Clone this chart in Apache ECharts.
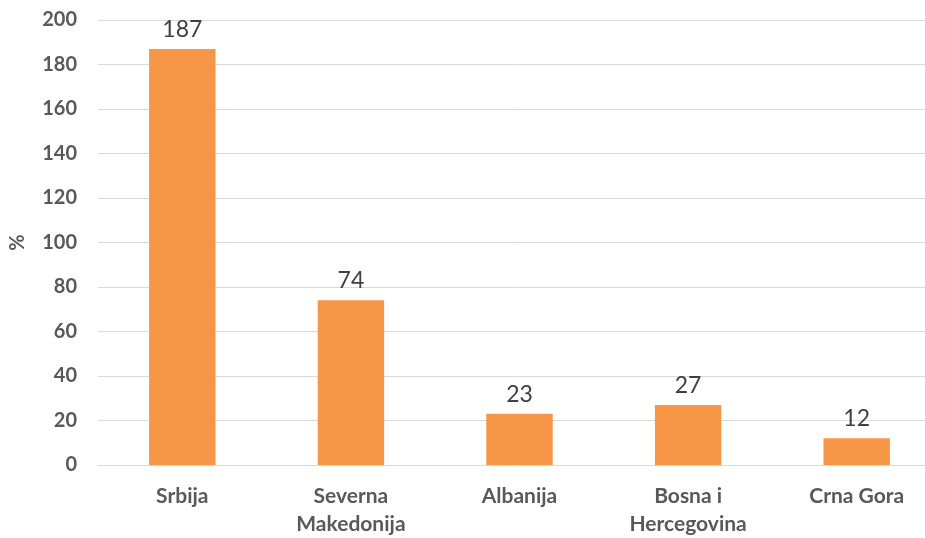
<!DOCTYPE html>
<html>
<head>
<meta charset="utf-8">
<title>Chart</title>
<script src="https://cdn.jsdelivr.net/npm/echarts@6/dist/echarts.min.js"></script>
<style>
  html, body { margin: 0; padding: 0; background: #ffffff; overflow: hidden; }
  /* the plot runs slightly past the right edge, so the canvas is clipped */
  #chart { width: 925px; height: 538px; overflow: hidden; position: relative; }
</style>
</head>
<body>
<div id="chart"></div>
<script>
// Countries on the x axis and their values (%)
const categories = ['Srbija', 'Severna\nMakedonija', 'Albanija', 'Bosna i\nHercegovina', 'Crna Gora'];
const values = [187, 74, 23, 27, 12];
const yTicks = { min: 0, max: 200, interval: 20 };
const yAxisName = '%';

const chart = echarts.init(document.getElementById('chart'), null, { renderer: 'canvas', width: 941, height: 538 });

chart.setOption({
  animation: false,
  backgroundColor: '#ffffff',
  grid: { left: 96, right: 0, top: 20, height: 450, containLabel: false },
  xAxis: {
    type: 'category',
    data: categories,
    axisLine: { show: true, lineStyle: { color: '#d9d9d9', width: 1 } },
    axisTick: { show: false },
    axisLabel: {
      color: '#595959',
      fontFamily: 'Lato',
      fontWeight: 'bold',
      fontSize: 21,
      lineHeight: 28,
      margin: 17,
      interval: 0
    }
  },
  yAxis: {
    type: 'value',
    min: yTicks.min,
    max: yTicks.max,
    interval: yTicks.interval,
    name: yAxisName,
    nameLocation: 'middle',
    nameGap: 70,
    nameRotate: 90,
    nameTextStyle: { color: '#595959', fontFamily: 'Lato', fontWeight: 'bold', fontSize: 20 },
    axisLine: { show: false },
    axisTick: { show: false },
    splitLine: { show: true, lineStyle: { color: '#d9d9d9', width: 1 } },
    axisLabel: {
      color: '#595959',
      fontFamily: 'Lato',
      fontWeight: 'bold',
      fontSize: 20,
      margin: 21
    }
  },
  series: [{
    type: 'bar',
    data: values,
    barCategoryGap: '60.6%',
    itemStyle: { color: '#F79646' },
    label: {
      show: true,
      position: 'top',
      distance: 8,
      color: '#404040',
      fontFamily: 'Lato',
      fontSize: 23
    }
  }]
});
</script>
</body>
</html>
